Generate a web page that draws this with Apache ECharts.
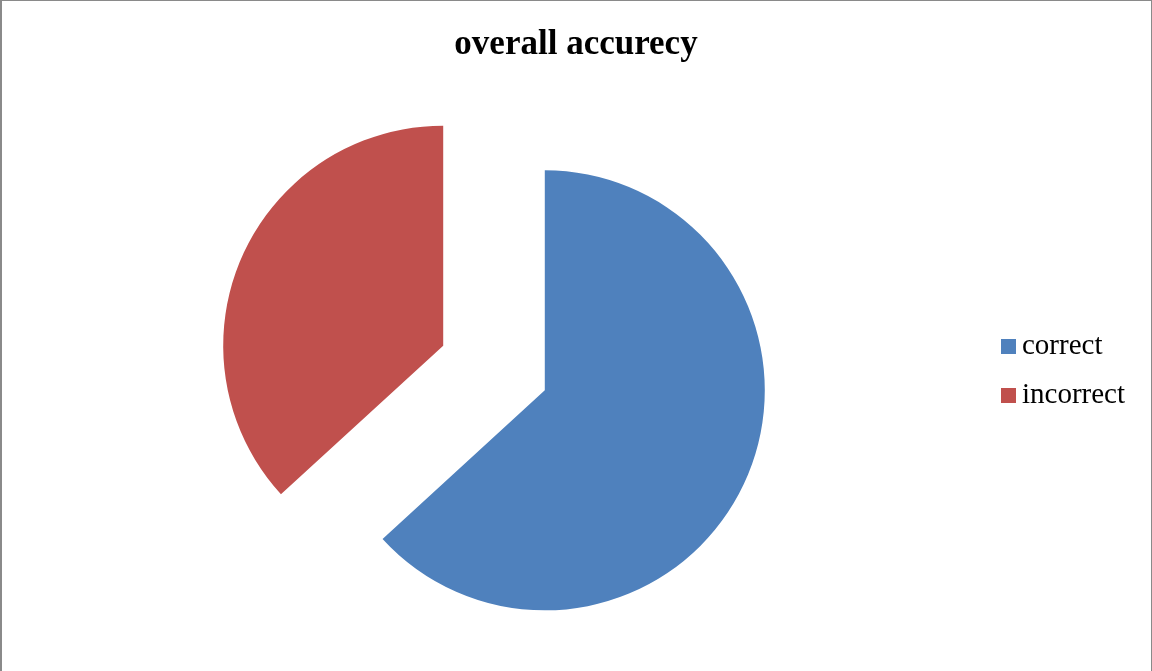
<!DOCTYPE html>
<html>
<head>
<meta charset="utf-8">
<script src="https://cdn.jsdelivr.net/npm/echarts@6/dist/echarts.min.js"></script>
<style>
  html, body { margin: 0; padding: 0; background: #fff; }
  #wrap { position: relative; width: 1152px; height: 671px; }
  #chart { position: absolute; left: 0; top: 0; width: 1152px; height: 671px; }
  #frame { position: absolute; left: 0; top: 0; width: 1152px; height: 671px; box-sizing: border-box;
           border-left: 2px solid #8a8a8a; border-top: 1px solid #8a8a8a; border-right: 1px solid #8a8a8a; pointer-events: none; }
</style>
</head>
<body>
<div id="wrap">
  <div id="chart"></div>
  <div id="frame"></div>
</div>
<script>
const titleText = 'overall accurecy';
const categories = ['correct', 'incorrect'];
const values = [63.2, 36.8];
const colors = ['#4F81BD', '#C0504D'];

const chart = echarts.init(document.getElementById('chart'), null, { renderer: 'canvas' });
chart.setOption({
  animation: false,
  title: {
    text: titleText,
    left: 'center',
    top: 22,
    textStyle: { fontFamily: 'Liberation Serif', fontWeight: 'bold', fontSize: 35, color: '#000' }
  },
  legend: {
    orient: 'vertical',
    left: 1001,
    top: 332,
    padding: 0,
    itemWidth: 15,
    itemHeight: 15,
    itemGap: 20,
    icon: 'rect',
    data: categories,
    textStyle: { fontFamily: 'Liberation Serif', fontSize: 29, color: '#000', lineHeight: 29, padding: [0, 0, 0, 1] },
    selectedMode: false
  },
  series: [{
    type: 'pie',
    center: [494, 368],
    radius: 220,
    startAngle: 90,
    clockwise: true,
    selectedMode: 'multiple',
    selectedOffset: 55.5,
    label: { show: false },
    labelLine: { show: false },
    emphasis: { disabled: true },
    select: { itemStyle: { opacity: 1 } },
    data: categories.map((c, i) => ({
      name: c,
      value: values[i],
      selected: true,
      itemStyle: { color: colors[i] }
    }))
  }]
});
</script>
</body>
</html>
